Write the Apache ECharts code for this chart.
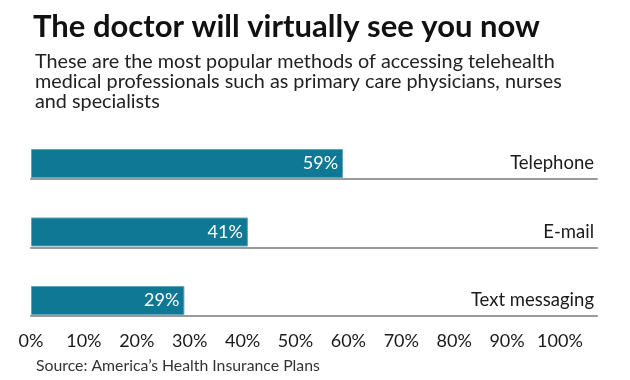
<!DOCTYPE html>
<html><head><meta charset="utf-8">
<script src="https://cdn.jsdelivr.net/npm/echarts@6/dist/echarts.min.js"></script>
<style>html,body{margin:0;padding:0;background:#fff}#c{width:630px;height:380px}</style>
</head><body><div id="c"></div>
<script>
const categories = ['Telephone', 'E-mail', 'Text messaging'];
const values = [59, 41, 29];
const tickLabels = ['0%','10%','20%','30%','40%','50%','60%','70%','80%','90%','100%'];
const titleText = 'The doctor will virtually see you now';
const subtitleText = 'These are the most popular methods of accessing telehealth\nmedical professionals such as primary care physicians, nurses\nand specialists';
const sourceText = 'Source: America\u2019s Health Insurance Plans';

const FONT = 'Lato';
const rowTop = [148, 216.5, 285];
const grids = [], xAxes = [], yAxes = [], series = [];
categories.forEach((cat, i) => {
  grids.push({left: 31, right: 33, top: rowTop[i], height: 31, containLabel: false});
  const last = i === categories.length - 1;
  xAxes.push({
    type: 'value', gridIndex: i, min: 0, max: 107, interval: 10,
    axisLine: {show: true, lineStyle: {color: '#999', width: 2}},
    axisTick: {show: false}, splitLine: {show: false},
    axisLabel: {show: last, showMaxLabel: false, margin: 16, fontSize: 18, color: '#1a1a1a', fontFamily: FONT,
      formatter: v => tickLabels[Math.round(v / 10)] || ''}
  });
  yAxes.push({
    type: 'category', gridIndex: i, data: [cat], position: 'right',
    axisLine: {show: false}, axisTick: {show: false},
    axisLabel: {inside: true, margin: 3, fontSize: 18.5, color: '#1a1a1a', fontFamily: FONT}
  });
  series.push({
    type: 'bar', xAxisIndex: i, yAxisIndex: i, data: [values[i]], barWidth: 29,
    itemStyle: {color: '#0e7895', borderColor: '#5aa6bb', borderWidth: 1},
    label: {show: true, position: 'insideRight', distance: 5, color: '#fff', fontSize: 18, fontFamily: FONT,
      formatter: p => p.value + '%'}
  });
});

const chart = echarts.init(document.getElementById('c'));
chart.setOption({
  animation: false,
  title: [
    {text: titleText, left: 28, top: 6, textStyle: {fontSize: 31, fontWeight: 'bold', color: '#111', fontFamily: FONT}},
    {text: subtitleText, left: 30, top: 47, textStyle: {fontSize: 19.8, fontWeight: 'normal', color: '#222', lineHeight: 20, fontFamily: FONT}},
    {text: sourceText, left: 31, top: 353, textStyle: {fontSize: 15.8, fontWeight: 'normal', color: '#333', fontFamily: FONT}}
  ],
  grid: grids, xAxis: xAxes, yAxis: yAxes, series: series
});
</script></body></html>
